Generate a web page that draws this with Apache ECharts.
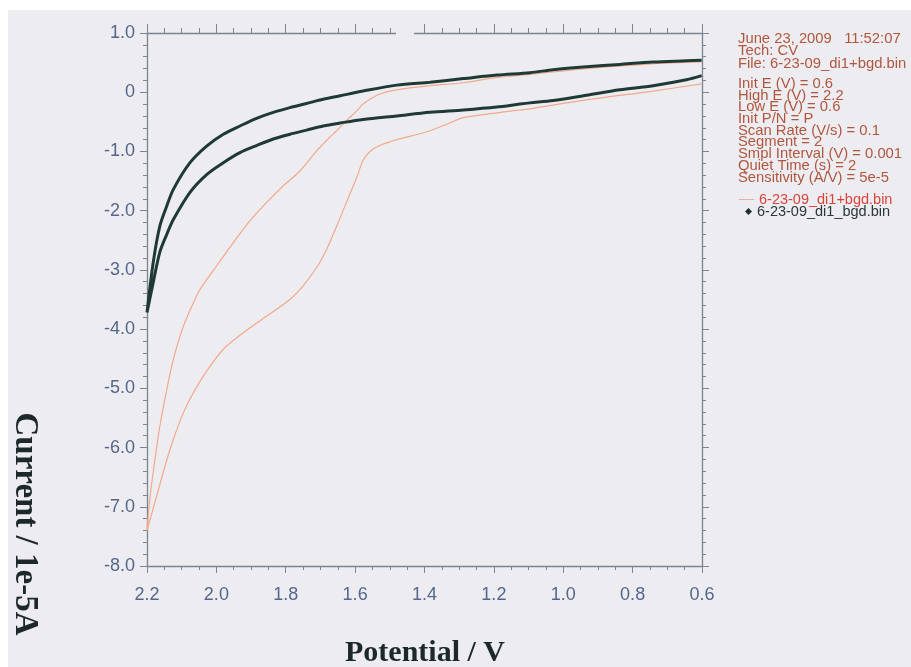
<!DOCTYPE html>
<html><head><meta charset="utf-8">
<script src="https://cdn.jsdelivr.net/npm/echarts@6/dist/echarts.min.js"></script>
<style>html,body{margin:0;padding:0;background:#ededf1}#c{width:911px;height:667px}</style>
</head><body><div id="c"></div>
<script>
// ---- data (potential V, current 1e-5 A) ----
const orangeName = '6-23-09_di1+bgd.bin';
const darkName = '6-23-09_di1_bgd.bin';

// dark (bgd) forward scan 0.6 -> 2.2
const darkFwdV = [0.601,0.645,0.741,0.837,0.933,1.029,1.096,1.125,1.192,1.288,1.384,1.480,1.577,1.643,1.692,1.740,1.788,1.836,1.884,1.932,1.980,2.028,2.076,2.124,2.143,2.163,2.182,2.200];
const darkFwdI = [0.28,0.21,0.11,0.04,-0.05,-0.14,-0.18,-0.20,-0.25,-0.30,-0.34,-0.40,-0.46,-0.52,-0.57,-0.64,-0.71,-0.79,-0.90,-1.02,-1.19,-1.39,-1.69,-2.15,-2.40,-2.70,-3.21,-3.72];
// dark reverse scan 2.2 -> 0.6
const darkRevV = [2.182,2.163,2.143,2.124,2.076,2.028,1.980,1.932,1.884,1.836,1.788,1.740,1.692,1.643,1.577,1.480,1.384,1.288,1.192,1.096,1.029,0.933,0.837,0.741,0.645,0.601];
const darkRevI = [-2.87,-2.26,-1.92,-1.64,-1.19,-0.91,-0.71,-0.57,-0.44,-0.34,-0.26,-0.19,-0.12,-0.06,0.02,0.12,0.17,0.23,0.29,0.33,0.38,0.43,0.47,0.51,0.53,0.54];

// orange (di1+bgd) forward scan 0.6 -> 2.2
const orFwdV = [0.601,0.741,0.933,1.096,1.125,1.192,1.288,1.336,1.384,1.432,1.480,1.529,1.557,1.577,1.596,1.625,1.653,1.682,1.711,1.750,1.788,1.855,1.922,1.980,2.028,2.066,2.095,2.124,2.148,2.172,2.191,2.200];
const orFwdI = [0.14,0.02,-0.13,-0.28,-0.30,-0.35,-0.43,-0.54,-0.65,-0.73,-0.80,-0.90,-1.00,-1.15,-1.45,-1.86,-2.26,-2.65,-2.96,-3.27,-3.50,-3.78,-4.06,-4.34,-4.71,-5.07,-5.41,-5.86,-6.31,-6.82,-7.21,-7.40];
// orange reverse scan 2.2 -> 0.6
const orRevV = [2.191,2.177,2.163,2.143,2.124,2.095,2.062,2.047,1.999,1.951,1.903,1.855,1.807,1.759,1.711,1.673,1.653,1.625,1.596,1.577,1.557,1.529,1.480,1.384,1.288,1.192,1.096,0.933,0.741,0.601];
const orRevI = [-6.82,-6.20,-5.64,-5.02,-4.51,-3.95,-3.50,-3.33,-2.93,-2.54,-2.17,-1.86,-1.58,-1.33,-0.99,-0.76,-0.65,-0.48,-0.32,-0.20,-0.12,-0.03,0.04,0.11,0.16,0.25,0.30,0.40,0.48,0.51];

const infoHeader = ['June 23, 2009   11:52:07', 'Tech: CV', 'File: 6-23-09_di1+bgd.bin'];
const infoParams = ['Init E (V) = 0.6', 'High E (V) = 2.2', 'Low E (V) = 0.6', 'Init P/N = P', 'Scan Rate (V/s) = 0.1', 'Segment = 2', 'Smpl Interval (V) = 0.001', 'Quiet Time (s) = 2', 'Sensitivity (A/V) = 5e-5'];
const xTitle = 'Potential / V';
const yTitle = 'Current / 1e-5A';

function zip(a, b) { return a.map((v, i) => [v, b[i]]); }
const darkData = zip(darkFwdV, darkFwdI).concat(zip(darkRevV, darkRevI));
const orData = zip(orFwdV, orFwdI).concat(zip(orRevV, orRevI));

const BG = '#ededf1';
const AX = '#7c8490';
const LBL = '#55668a';
const sans = '"Liberation Sans", Arial, sans-serif';
const serif = '"Liberation Serif", "Times New Roman", serif';

const chart = echarts.init(document.getElementById('c'));
const xCommon = {
  type: 'value', min: 0.6, max: 2.2, interval: 0.2, inverse: true,
  axisLine: { show: true, onZero: false, lineStyle: { color: AX, width: 1.3 } },
  splitLine: { show: false },
  minorTick: { show: true, splitNumber: 4, length: 4, lineStyle: { color: AX } },
  axisTick: { show: true, length: 7, lineStyle: { color: AX } }
};
const yCommon = {
  type: 'value', min: -8, max: 1, interval: 1,
  axisLine: { show: true, onZero: false, lineStyle: { color: AX, width: 1.3 } },
  splitLine: { show: false },
  minorTick: { show: true, splitNumber: 5, length: 4, lineStyle: { color: AX } },
  axisTick: { show: true, length: 7, lineStyle: { color: AX } }
};

chart.setOption({
  animation: false,
  backgroundColor: BG,
  grid: { left: 147, right: 209, top: 33, bottom: 101 },
  xAxis: [
    Object.assign({}, xCommon, { position: 'bottom',
      axisLabel: { color: LBL, fontSize: 18, fontFamily: sans, margin: 20, formatter: v => v.toFixed(1) } }),
    Object.assign({}, xCommon, { position: 'top', axisLabel: { show: false },
      axisTick: { show: true, length: 9, lineStyle: { color: AX } },
      minorTick: { show: true, splitNumber: 4, length: 5, lineStyle: { color: AX } } })
  ],
  yAxis: [
    Object.assign({}, yCommon, { position: 'left',
      axisLabel: { color: LBL, fontSize: 18, fontFamily: sans, margin: 12, formatter: v => v === 0 ? '0' : v.toFixed(1) } }),
    Object.assign({}, yCommon, { position: 'right', axisLabel: { show: false } })
  ],
  legend: [
    { data: [{ name: orangeName, itemStyle: { color: '#e2b2a8' } }], left: 739, top: 192, padding: 0,
      icon: 'rect', itemWidth: 15, itemHeight: 1, itemGap: 0,
      textStyle: { color: '#d8443a', fontSize: 14.5, fontFamily: sans } },
    { data: [{ name: darkName, itemStyle: { color: '#1f2f2f' } }], left: 745, top: 204, padding: 0,
      icon: 'diamond', itemWidth: 7, itemHeight: 7, itemGap: 0,
      textStyle: { color: '#2b3838', fontSize: 14.5, fontFamily: sans } }
  ],
  graphic: [
    { type: 'rect', shape: { x: 0, y: 0, width: 911, height: 10 }, style: { fill: '#ffffff' }, z: 100 },
    { type: 'rect', shape: { x: 0, y: 0, width: 8, height: 667 }, style: { fill: '#ffffff' }, z: 100 },
    { type: 'rect', shape: { x: 396, y: 18, width: 18, height: 17 }, style: { fill: BG }, z: 100 },
    { type: 'text', x: 738, y: 33, z: 100, style: { text: infoHeader.join('\n'), font: '14.8px ' + sans, fill: '#b0563e', lineHeight: 12.2, verticalAlign: 'top' } },
    { type: 'text', x: 738, y: 78, z: 100, style: { text: infoParams.join('\n'), font: '14.8px ' + sans, fill: '#b0563e', lineHeight: 11.7, verticalAlign: 'top' } },
    { type: 'text', x: 425, y: 653, z: 100, style: { text: xTitle, font: 'bold 30px ' + serif, fill: '#1d2929', align: 'center', verticalAlign: 'middle' } },
    { type: 'text', x: 25, y: 524, rotation: -Math.PI / 2, z: 100, style: { text: yTitle, font: 'bold 33px ' + serif, fill: '#1d2929', align: 'center', verticalAlign: 'middle' } }
  ],
  series: [
    { name: orangeName, type: 'line', data: orData, showSymbol: false, smooth: 0.3, z: 2,
      lineStyle: { color: '#f2a88c', width: 1.2 }, itemStyle: { color: '#f2a88c' } },
    { name: darkName, type: 'line', data: darkData, showSymbol: false, smooth: 0.3, z: 3,
      lineStyle: { color: '#1f3a34', width: 3 }, itemStyle: { color: '#1f3a34' } }
  ]
});
</script></body></html>
